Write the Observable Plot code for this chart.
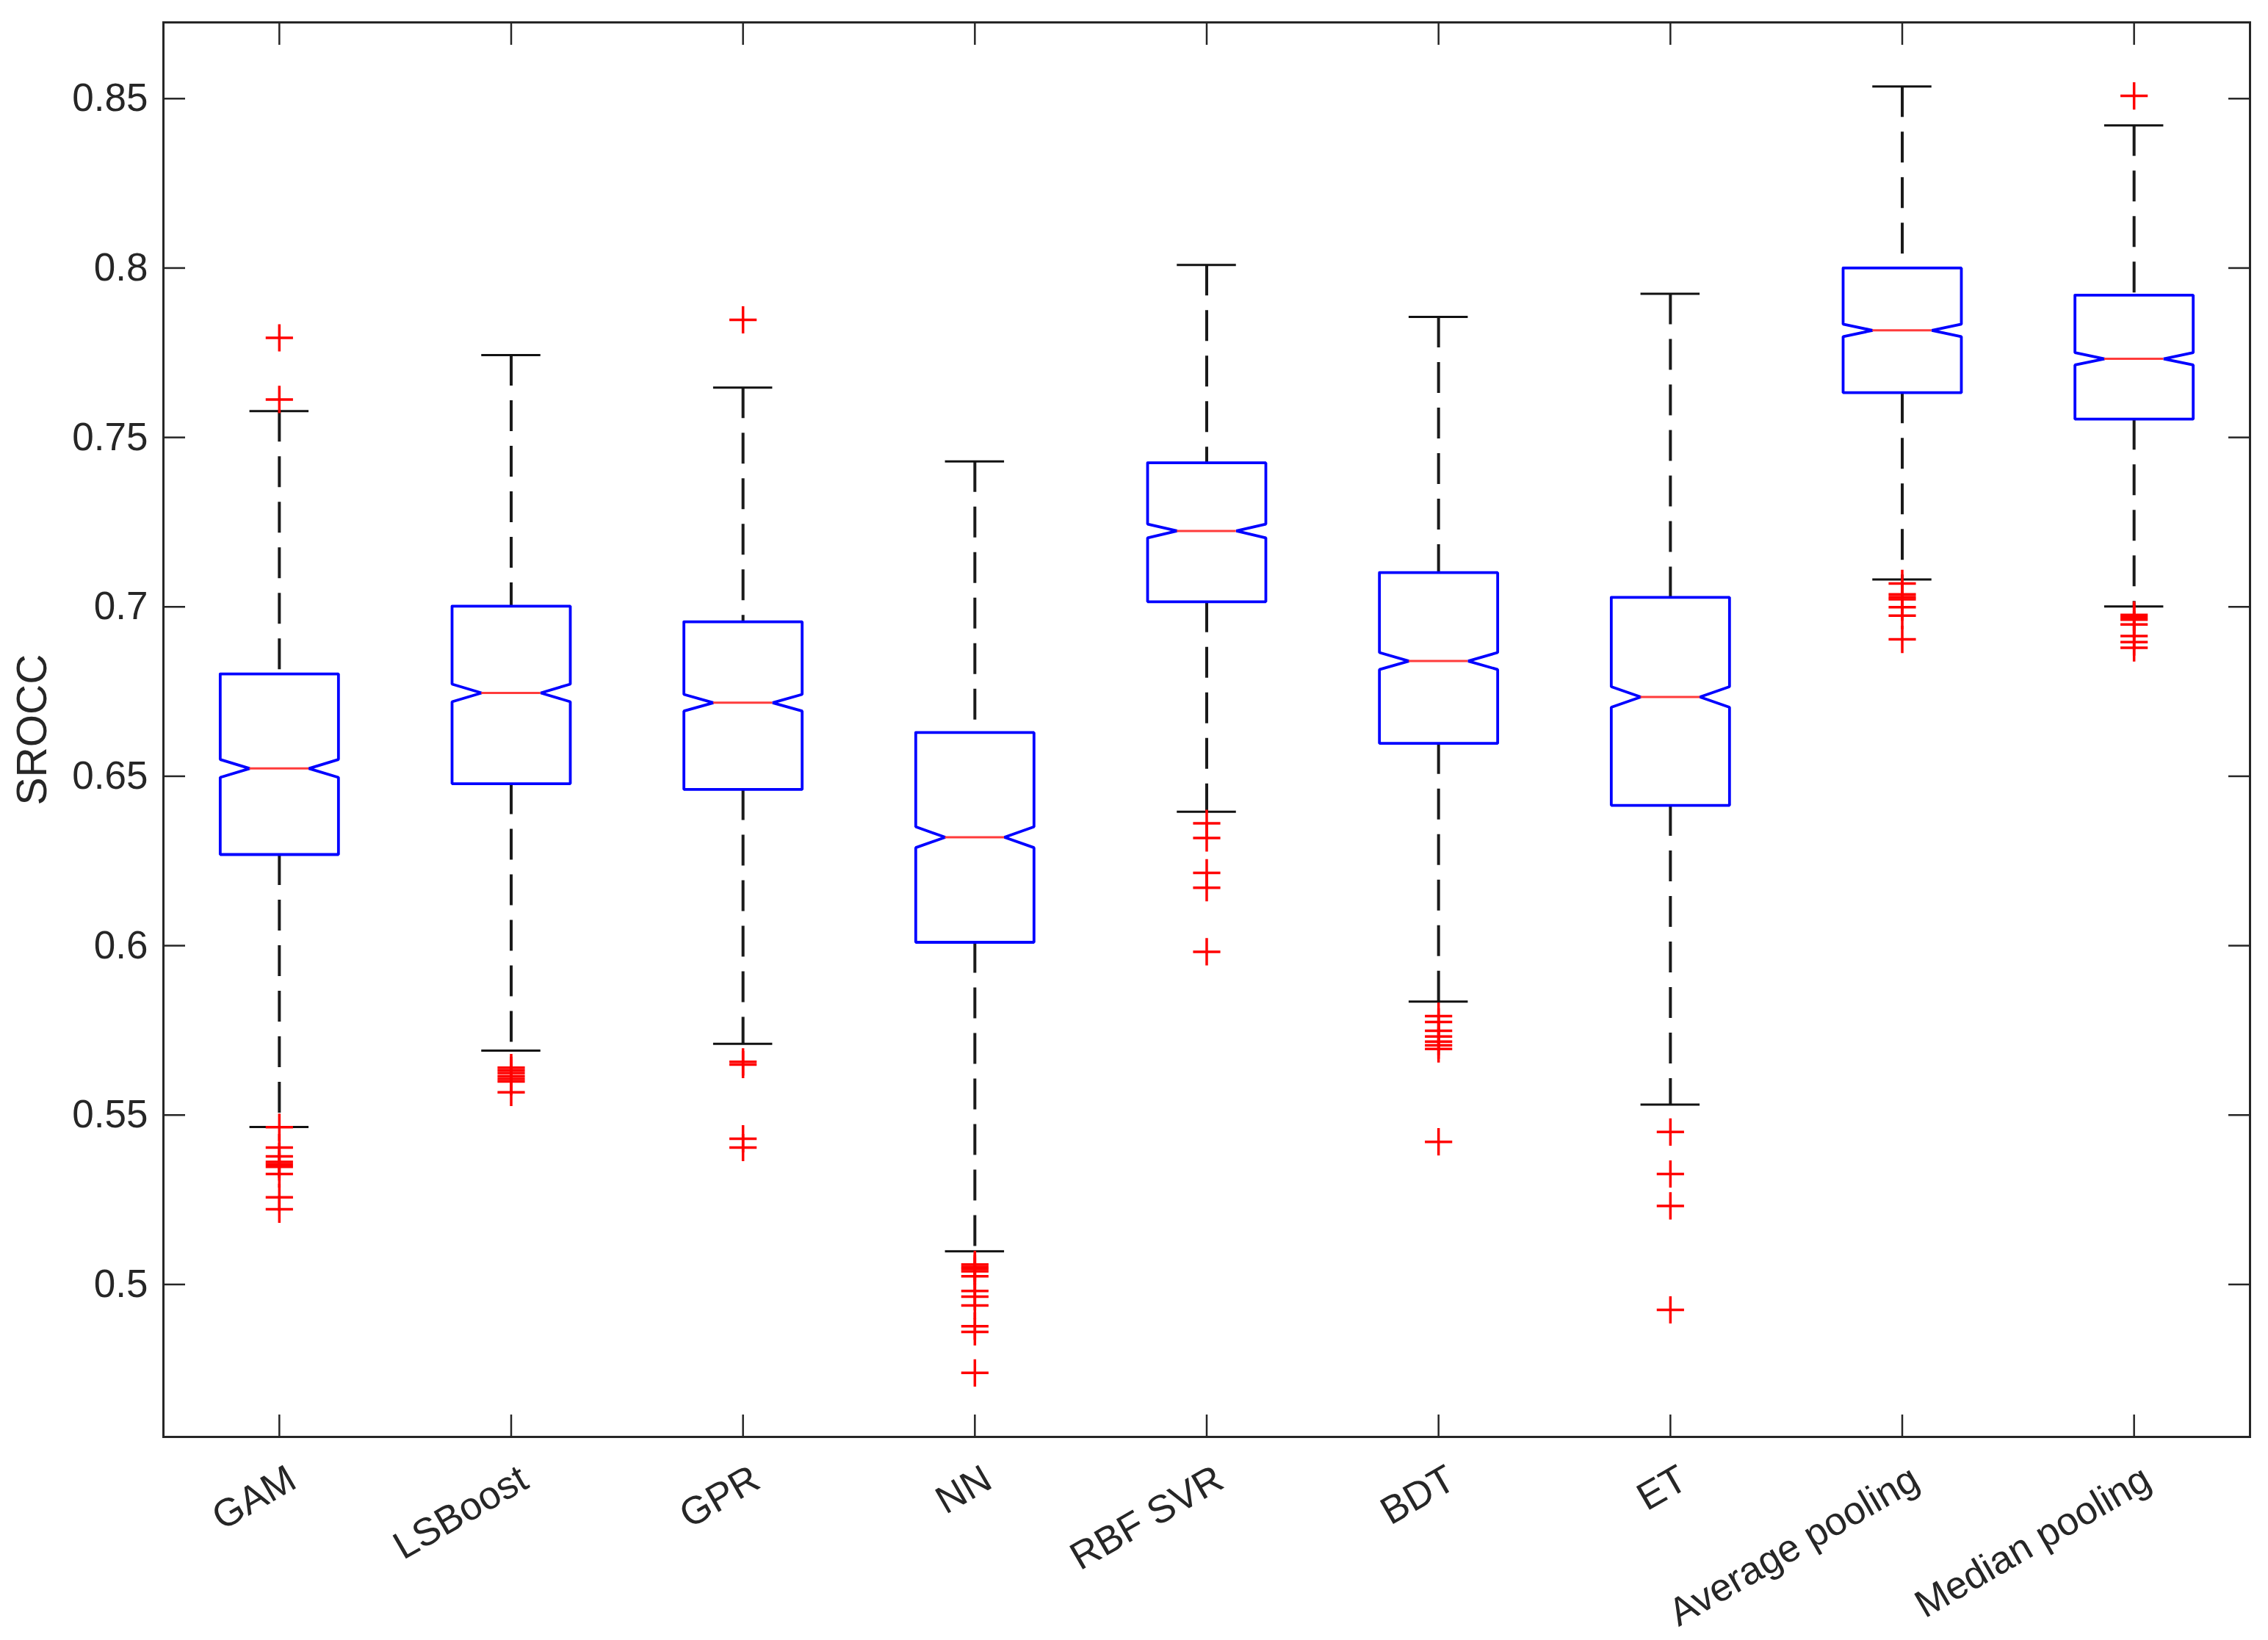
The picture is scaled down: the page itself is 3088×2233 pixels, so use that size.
<!DOCTYPE html>
<html><head><meta charset="utf-8">
<script src="https://cdn.jsdelivr.net/npm/d3@7"></script>
<script src="https://cdn.jsdelivr.net/npm/@observablehq/plot@0.6"></script>
<style>html,body{margin:0;padding:0;background:#fff;} svg{display:block}</style>
</head><body><div id="chart"></div>
<script>
const categories = ["GAM","LSBoost","GPR","NN","RBF SVR","BDT","ET","Average pooling","Median pooling"];
const upperWhisker = [0.7578, 0.7743, 0.7647, 0.7429, 0.8009, 0.7856, 0.7924, 0.8536, 0.8421];
const q3           = [0.6802, 0.7002, 0.6956, 0.6629, 0.7425, 0.7101, 0.7028, 0.8000, 0.7920];
const median       = [0.6523, 0.6746, 0.6717, 0.6320, 0.7224, 0.6840, 0.6734, 0.7816, 0.7732];
const q1           = [0.6269, 0.6478, 0.6461, 0.6010, 0.7015, 0.6597, 0.6414, 0.7632, 0.7554];
const lowerWhisker = [0.5465, 0.5690, 0.5710, 0.5098, 0.6395, 0.5835, 0.5531, 0.7081, 0.7001];
const nRuns = 1000;

const outGAM     = [0.7794, 0.7612, 0.5464, 0.5404, 0.5378, 0.5362, 0.5355, 0.5347, 0.5326, 0.5257, 0.5222];
const outLSBoost = [0.5640, 0.5632, 0.5624, 0.5615, 0.5607, 0.5599, 0.5567];
const outGPR     = [0.7847, 0.5657, 0.5649, 0.5430, 0.5404];
const outNN      = [0.5059, 0.5052, 0.5046, 0.5039, 0.5024, 0.4981, 0.4964, 0.4938, 0.4877, 0.4860, 0.4739];
const outRBF     = [0.6361, 0.6318, 0.6215, 0.6171, 0.5982];
const outBDT     = [0.5792, 0.5775, 0.5749, 0.5732, 0.5717, 0.5706, 0.5695, 0.5421];
const outET      = [0.5450, 0.5326, 0.5232, 0.4925];
const outAvg     = [0.7069, 0.7037, 0.7029, 0.7022, 0.6999, 0.6974, 0.6904];
const outMed     = [0.8508, 0.6976, 0.6969, 0.6962, 0.6948, 0.6914, 0.6896, 0.6879];
const outliersByCat = [outGAM, outLSBoost, outGPR, outNN, outRBF, outBDT, outET, outAvg, outMed];

const yTicks = [0.5, 0.55, 0.6, 0.65, 0.7, 0.75, 0.8, 0.85];
const yTickLabels = ["0.5", "0.55", "0.6", "0.65", "0.7", "0.75", "0.8", "0.85"];

// ---- derived tables ----
const W = 0.255; // box half-width (band units)
const idx = categories.map((c, i) => i);
const boxes = categories.map((c, i) => ({
  i, c, q1: q1[i], q3: q3[i], med: median[i], lo: lowerWhisker[i], hi: upperWhisker[i],
  notch: 1.57 * (q3[i] - q1[i]) / Math.sqrt(nRuns)
}));
const outline = boxes.flatMap(b => [
  [b.i - W, b.q3], [b.i + W, b.q3], [b.i + W, b.med + b.notch], [b.i + W / 2, b.med],
  [b.i + W, b.med - b.notch], [b.i + W, b.q1], [b.i - W, b.q1], [b.i - W, b.med - b.notch],
  [b.i - W / 2, b.med], [b.i - W, b.med + b.notch], [b.i - W, b.q3]
].map(([x, y]) => ({c: b.c, x, y})));
const outliers = outliersByCat.flatMap((arr, i) => arr.map(v => ({i, v})));

const chart = Plot.plot({
  width: 3088, height: 2233,
  marginLeft: 222, marginRight: 25, marginTop: 30, marginBottom: 277,
  style: {fontFamily: "'Liberation Sans', Arial, Helvetica, sans-serif", fontSize: "53px", color: "#262626", background: "#fff"},
  x: {type: "linear", domain: [-0.5, 8.5]},
  y: {domain: [0.455, 0.8725]},
  marks: [
    Plot.ruleX(boxes, {x: "i", y1: "hi", y2: "q3", stroke: "#1a1a1a", strokeWidth: 4, strokeDasharray: "42,20"}),
    Plot.ruleX(boxes, {x: "i", y1: "q1", y2: "lo", stroke: "#1a1a1a", strokeWidth: 4, strokeDasharray: "42,20"}),
    Plot.ruleY(boxes, {y: "hi", x1: d => d.i - W / 2, x2: d => d.i + W / 2, stroke: "#111", strokeWidth: 3}),
    Plot.ruleY(boxes, {y: "lo", x1: d => d.i - W / 2, x2: d => d.i + W / 2, stroke: "#111", strokeWidth: 3}),
    Plot.line(outline, {x: "x", y: "y", z: "c", stroke: "#0000ff", strokeWidth: 3.8, strokeLinejoin: "miter"}),
    Plot.ruleY(boxes, {y: "med", x1: d => d.i - W / 2, x2: d => d.i + W / 2, stroke: "#ff3b3b", strokeWidth: 3}),
    Plot.dot(outliers, {x: "i", y: "v", symbol: "plus", r: 12, stroke: "#ff0000", strokeWidth: 3.5}),
    Plot.frame({stroke: "#262626", strokeWidth: 3}),
    Plot.axisY({anchor: "left", ticks: yTicks, tickFormat: d => yTickLabels[yTicks.indexOf(d)], tickSize: -30, tickPadding: 51, strokeWidth: 2.5, label: null}),
    Plot.axisY({anchor: "right", ticks: yTicks, tickFormat: () => "", tickSize: -30, strokeWidth: 2.5, label: null}),
    Plot.axisX({anchor: "bottom", ticks: idx, tickFormat: () => "", tickSize: -30, strokeWidth: 2.5, label: null}),
    Plot.axisX({anchor: "top", ticks: idx, tickFormat: () => "", tickSize: -30, strokeWidth: 2.5, label: null}),
    Plot.text(boxes, {x: "i", text: "c", frameAnchor: "bottom", dx: 18, dy: 53, rotate: -30, textAnchor: "end", lineAnchor: "middle", fill: "#262626"}),
    Plot.text(["SROCC"], {frameAnchor: "left", dx: -178, rotate: -90, lineAnchor: "middle", textAnchor: "middle", fontSize: 57, fill: "#262626"})
  ]
});
document.getElementById("chart").appendChild(chart);
</script>
</body></html>
